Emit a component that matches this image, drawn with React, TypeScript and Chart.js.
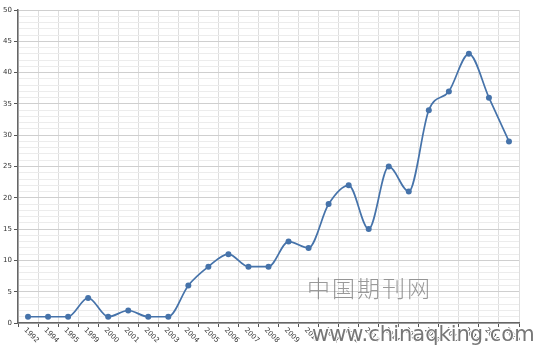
import React, { useEffect, useRef } from "react";
import { Chart, registerables } from "chart.js";

Chart.register(...registerables);

const years = ["1992","1994","1995","1999","2000","2001","2002","2003","2004","2005","2006","2007","2008","2009","2010","2011","2012","2013","2014","2015","2016","2017","2018","2019","2020"];
const counts = [1,1,1,4,1,2,1,1,6,9,11,9,9,13,12,19,22,15,25,21,34,37,43,36,29];
const watermarkCn = "中国期刊网";
const watermarkUrl = "www.chinaqking.com";

const rotatedLabels = {
  id: "rotatedLabels",
  afterDraw(chart: any) {
    const ctx = chart.ctx;
    const xs = chart.scales.x;
    const area = chart.chartArea;
    ctx.save();
    ctx.font = '7px "DejaVu Sans"';
    ctx.fillStyle = "#333";
    ctx.textAlign = "left";
    ctx.textBaseline = "middle";
    years.forEach((y, i) => {
      const x = xs.getPixelForValue(i);
      ctx.save();
      ctx.translate(x - 3, area.bottom + 6);
      ctx.rotate(Math.PI / 4);
      ctx.fillText(y, 0, 0);
      ctx.restore();
    });
    ctx.restore();
  },
};

const watermark = {
  id: "watermark",
  afterDraw(chart: any) {
    const ctx = chart.ctx;
    ctx.save();
    ctx.font = '300 23px "Noto Sans CJK SC"';
    ctx.textAlign = "left";
    ctx.textBaseline = "middle";
    ctx.fillStyle = "rgba(120,120,120,0.75)";
    const chars = Array.from(watermarkCn);
    chars.forEach((c, i) => ctx.fillText(c, 307 + i * 25, 288));
    ctx.font = '21px "DejaVu Sans"';
    ctx.textBaseline = "alphabetic";
    ctx.lineWidth = 2;
    ctx.strokeStyle = "#fff";
    ctx.strokeText(watermarkUrl, 312, 341);
    ctx.fillStyle = "#777";
    ctx.fillText(watermarkUrl, 312, 341);
    ctx.restore();
  },
};

export default function App() {
  const ref = useRef<HTMLCanvasElement>(null);
  useEffect(() => {
    const chart = new Chart(ref.current!, {
      type: "line",
      data: {
        labels: years,
        datasets: [
          {
            data: counts,
            borderColor: "#4673aa",
            backgroundColor: "#4673aa",
            borderWidth: 1.7,
            pointRadius: 3,
            pointBorderWidth: 0,
            cubicInterpolationMode: "monotone",
            fill: false,
          },
        ],
      },
      options: {
        animation: false,
        responsive: false,
        maintainAspectRatio: false,
        layout: { padding: { top: 10, right: 16, left: 0, bottom: 0 } },
        plugins: { legend: { display: false }, tooltip: { enabled: false } },
        scales: {
          x: {
            offset: true,
            grid: {
              offset: true,
              color: "#dedede",
              tickColor: "#555",
              tickLength: 4,
              drawTicks: true,
            },
            border: { color: "#666", width: 1.5 },
            ticks: { display: false },
            afterFit: (s: any) => {
              s.height = 24;
            },
          },
          y: {
            min: 0,
            max: 50,
            grid: {
              color: (c: any) => (c.tick && c.tick.value % 5 === 0 ? "#cfcfcf" : "#ececec"),
              tickColor: (c: any) => (c.tick && c.tick.value % 5 === 0 ? "#555" : "rgba(0,0,0,0)"),
              tickLength: 4,
            },
            border: { color: "#666", width: 1.5 },
            ticks: {
              stepSize: 1,
              autoSkip: false,
              padding: 2,
              color: "#333",
              font: { family: "DejaVu Sans", size: 7 },
              callback: (v: any) => (Number(v) % 5 === 0 ? String(v) : ""),
            },
            afterFit: (s: any) => {
              s.width = 18;
            },
          },
        },
      },
      plugins: [rotatedLabels, watermark],
    });
    return () => chart.destroy();
  }, []);
  return (
    <div style={{ position: "fixed", left: 0, top: 0, width: 535, height: 347, background: "#fff" }}>
      <canvas ref={ref} width={535} height={347} style={{ display: "block" }} />
    </div>
  );
}
